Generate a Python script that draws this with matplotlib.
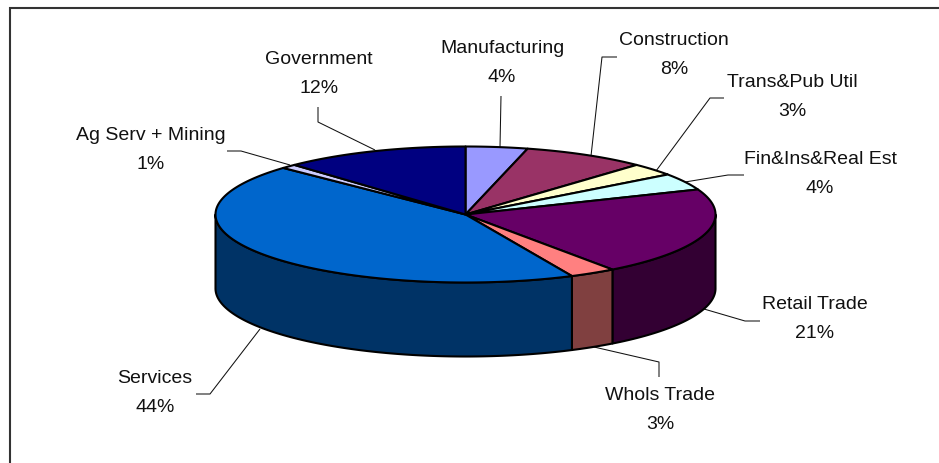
import numpy as np
import matplotlib
matplotlib.use("Agg")
import matplotlib.pyplot as plt
from matplotlib.patches import Polygon

plt.rcParams['font.family'] = ['Liberation Sans', 'DejaVu Sans']

# Employment share by sector, clockwise from 12 o'clock
sectors = ["Manufacturing", "Construction", "Trans&Pub Util", "Fin&Ins&Real Est",
           "Retail Trade", "Whols Trade", "Services", "Ag Serv + Mining", "Government"]
shares = [4, 8, 3, 4, 21, 3, 44, 1, 12]

top_colors = ["#9999FF", "#993366", "#FFFFCC", "#CCFFFF", "#660066",
              "#FF8080", "#0066CC", "#CCCCFF", "#000080"]
side_colors = ["#4D4D80", "#4D1A33", "#808066", "#668080", "#330033",
               "#804040", "#003366", "#666680", "#000040"]

# Pie geometry, in pixels
cx, cy = 465.5, 214.5
rx, ry = 250.0, 68.0
depth = 74.0

# Label centres (x, y of the two-line block)
label_xy = [(502, 63), (674, 55), (792, 97), (820, 174), (815, 319),
            (660, 410), (155, 393), (151, 150), (319, 74)]

# Leader lines, label end first
leaders = [
    [(501, 96), (500, 147)],
    [(617, 57), (602, 57), (591, 156)],
    [(724, 98), (710, 98), (656, 171)],
    [(744, 175), (728, 175), (685, 182)],
    [(760, 321), (745, 321), (704, 309)],
    [(659, 377), (659, 362), (594, 347)],
    [(196, 394), (210, 394), (260, 329)],
    [(227, 151), (241, 151), (290, 165)],
    [(318, 107), (318, 122), (375, 150)],
]


def rim(a0, a1, dy=0.0):
    # Points on the ellipse, angles clockwise from the top in degrees
    n = max(int(abs(a1 - a0)) * 2, 2)
    t = np.radians(np.linspace(a0, a1, n))
    return np.column_stack([cx + rx * np.sin(t), cy - ry * np.cos(t) + dy])


fig = plt.figure(figsize=(9.39, 4.63), dpi=100)
ax = fig.add_axes([0, 0, 1, 1])
ax.set_xlim(0, 939)
ax.set_ylim(463, 0)
ax.axis("off")

edges = np.cumsum([0] + shares) / sum(shares) * 360.0

# Side walls: only the part of the rim facing the viewer (90 to 270 degrees)
for i in range(len(shares)):
    a0 = max(edges[i], 90.0)
    a1 = min(edges[i + 1], 270.0)
    if a1 <= a0:
        continue
    upper = rim(a0, a1)
    lower = rim(a1, a0, depth)
    ax.add_patch(Polygon(np.vstack([upper, lower]), closed=True, fc=side_colors[i],
                         ec="black", lw=1.5, joinstyle="round", zorder=2))

# Top faces
for i in range(len(shares)):
    pts = np.vstack([[cx, cy], rim(edges[i], edges[i + 1])])
    ax.add_patch(Polygon(pts, closed=True, fc=top_colors[i], ec="black", lw=1.5,
                         joinstyle="round", zorder=3))

for path in leaders:
    xs, ys = zip(*path)
    ax.plot(xs, ys, color="#111111", lw=0.75, solid_capstyle="butt", zorder=1)

for name, val, (x, y) in zip(sectors, shares, label_xy):
    ax.text(x, y, f"{name}\n{val}%", ha="center", va="center", fontsize=14.0,
            color="#111111", linespacing=1.85, zorder=4)

# Chart frame: only the top and left edges fall inside the image
ax.plot([939, 10, 10], [8, 8, 463], color="#333333", lw=1.5,
        solid_joinstyle="miter", zorder=5)

fig.savefig("out.png", dpi=100)
